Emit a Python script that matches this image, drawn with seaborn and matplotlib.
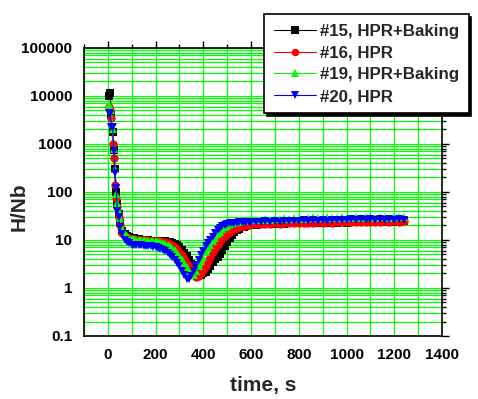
import matplotlib
matplotlib.use("Agg")
import matplotlib.pyplot as plt
import seaborn as sns
from matplotlib.ticker import MultipleLocator, FixedLocator, NullFormatter

# 时间轴（s）
time_s = ([5, 10, 15, 20, 25, 30, 35, 40, 45, 50, 60, 70, 80, 90, 100]
          + list(range(110, 610, 10)) + list(range(620, 1260, 20)))

# #15, HPR+Baking
hnb_15 = [9800, 11500, 4000, 1800, 750, 300, 100, 55, 35, 22, 15, 13, 12, 11.5, 11,
          10.8, 10.5, 10.3, 10.1, 10.0, 9.9, 9.8, 9.7, 9.6, 9.5,
          9.5, 9.4, 9.4, 9.3, 9.2, 9.0, 8.8, 8.4, 7.8, 7.0,
          6.2, 5.4, 4.6, 3.9, 3.2, 2.6, 2.2, 1.95, 1.9, 2.0,
          2.2, 2.5, 2.9, 3.4, 4.0, 4.5, 5.2, 6.2, 7.6, 9.2,
          11.0, 12.8, 14.5, 16.0, 17.2, 18.2, 19.0, 19.6, 20.1, 20.5,
          20.8, 21.2, 21.5, 21.3, 21.8, 22.0, 21.7, 22.2, 22.4, 22.0, 22.5, 22.3, 22.8, 22.6, 23.0, 22.7,
          23.1, 22.9, 23.3, 23.0, 23.4, 23.2, 23.6, 23.3, 23.7, 23.5, 23.9, 23.6, 24.0, 23.8, 24.2, 24.5]

# #16, HPR
hnb_16 = [6000, 5000, 3500, 1000, 500, 140, 75, 48, 30, 20, 14, 12, 11.5, 11, 10.5,
          10.3, 10.2, 10.1, 10.0, 10.0, 9.9, 9.8, 9.7, 9.6, 9.5,
          9.4, 9.3, 9.1, 8.9, 8.6, 8.2, 7.7, 7.1, 6.4, 5.6,
          4.8, 4.0, 3.3, 2.7, 2.2, 1.85, 1.7, 1.75, 2.0, 2.4,
          2.9, 3.6, 4.5, 5.5, 6.7, 8.0, 9.4, 10.8, 12.2, 13.5,
          14.7, 15.8, 16.8, 17.7, 18.5, 19.2, 19.8, 20.3, 20.7, 21.0,
          21.3, 21.6, 21.4, 21.9, 22.1, 21.8, 22.3, 22.5, 22.2, 22.7, 22.4, 22.9, 22.6, 23.1, 22.8, 23.2,
          23.0, 23.5, 23.2, 23.6, 23.4, 23.8, 23.5, 24.0, 23.7, 24.1, 23.9, 24.3, 24.0, 24.4, 24.2, 24.6]

# #19, HPR+Baking
hnb_19 = [6500, 6000, 5000, 2000, 800, 300, 90, 60, 40, 28, 18, 14, 12, 11, 10.5,
          10.3, 10.1, 10.0, 9.9, 9.8, 9.7, 9.6, 9.5, 9.4, 9.3,
          9.1, 8.9, 8.6, 8.3, 7.9, 7.4, 6.8, 6.1, 5.4, 4.7,
          4.0, 3.3, 2.7, 2.2, 1.85, 1.9, 2.3, 2.9, 3.6, 4.5,
          5.5, 6.7, 8.0, 9.6, 11.2, 13.0, 14.8, 16.6, 18.2, 19.7,
          21.0, 22.0, 22.9, 23.6, 24.2, 24.7, 25.1, 25.4, 25.6, 25.8,
          25.8, 26.5, 27.2, 26.6, 27.8, 27.0, 28.3, 27.4, 28.0, 29.1, 27.6, 28.5, 29.4, 28.0, 28.8, 29.6,
          28.2, 29.0, 29.8, 28.4, 29.3, 30.1, 28.7, 29.5, 30.2, 28.9, 29.7, 30.4, 29.1, 29.9, 30.3, 29.4]

# #20, HPR
hnb_20 = [4500, 4200, 2300, 2200, 700, 245, 120, 40, 30, 19, 13, 10, 9, 8.5, 8.0,
          8.0, 7.9, 7.8, 7.7, 7.6, 7.5, 7.4, 7.3, 7.2, 7.0,
          6.8, 6.5, 6.2, 5.8, 5.4, 4.9, 4.4, 3.9, 3.3, 2.8,
          2.3, 1.85, 1.5, 1.5, 1.8, 2.3, 3.0, 3.8, 4.8, 6.0,
          7.3, 8.7, 10.2, 11.7, 13.8, 16.0, 18.0, 19.5, 20.6, 21.4,
          22.0, 22.4, 22.7, 22.9, 23.1, 23.2, 23.3, 23.4, 23.5, 23.5,
          23.6, 23.9, 24.4, 23.7, 24.6, 24.0, 25.0, 24.3, 25.3, 24.6, 25.6, 24.8, 25.9, 25.0, 26.1, 25.2,
          26.3, 25.4, 26.5, 25.6, 26.7, 25.8, 26.8, 25.9, 27.0, 26.1, 27.1, 26.2, 27.2, 26.4, 27.3, 26.5]

labels = ['#15, HPR+Baking', '#16, HPR', '#19, HPR+Baking', '#20, HPR']
colors = ['black', 'red', '#00ff00', 'blue']
markers = ['s', 'o', '^', 'v']
series = [hnb_15, hnb_16, hnb_19, hnb_20]

sns.set_style('white')
plt.rcParams['font.family'] = ['Liberation Sans', 'DejaVu Sans']
plt.rcParams['font.weight'] = 'bold'

fig = plt.figure(figsize=(4.78, 3.99), dpi=100)
ax = fig.add_axes([0.1757, 0.158, 0.749, 0.722])

for y, lab, c, m in zip(series, labels, colors, markers):
    sns.lineplot(x=time_s, y=y, ax=ax, color=c, marker=m, markersize=6,
                 markeredgecolor=c, markeredgewidth=0, linewidth=0.8,
                 label=lab, sort=False)

ax.set_yscale('log')
ax.set_xlim(-100, 1400)
ax.set_ylim(0.1, 100000)

ax.xaxis.set_major_locator(MultipleLocator(200))
ax.xaxis.set_minor_locator(MultipleLocator(100))
ax.set_yticks([0.1, 1, 10, 100, 1000, 10000, 100000])
ax.set_yticklabels(['0.1', '1', '10', '100', '1000', '10000', '100000'])
minor_y = [m * 10.0 ** e for e in range(-1, 5) for m in range(2, 10)]
ax.yaxis.set_minor_locator(FixedLocator(minor_y))
ax.yaxis.set_minor_formatter(NullFormatter())

ax.grid(True, which='both', color='#00ff00', linewidth=0.9)
ax.set_axisbelow(True)

for s in ax.spines.values():
    s.set_color('black')
    s.set_linewidth(1.2)

ax.tick_params(axis='both', which='both', colors='black', labelsize=11)
ax.tick_params(axis='x', which='major', direction='out', length=5, width=1, top=True)
ax.tick_params(axis='x', which='minor', direction='out', length=3, width=1, top=True)
ax.tick_params(axis='y', which='major', direction='out', length=5, width=1, right=True)
ax.tick_params(axis='y', which='minor', direction='out', length=3, width=1, right=True)
for lbl in ax.get_xticklabels() + ax.get_yticklabels():
    lbl.set_fontweight('bold')

ax.set_xlabel('time, s', fontsize=15, fontweight='bold', labelpad=10)
ax.set_ylabel('H/Nb', fontsize=15, fontweight='bold')
ax.yaxis.set_label_coords(-0.155, 0.45)

ax.get_legend().remove()
handles, labs = ax.get_legend_handles_labels()
leg = fig.legend(handles, labs, loc='upper right', bbox_to_anchor=(0.998, 0.985),
                 fontsize=12.2, frameon=True, fancybox=False, edgecolor='black',
                 shadow={'color': 'black', 'alpha': 1}, handlelength=2.5,
                 labelspacing=0.4, borderpad=0.55, handletextpad=0.25, markerscale=0.9)
leg.get_frame().set_linewidth(1.2)
for t in leg.get_texts():
    t.set_fontweight('bold')

plt.savefig('out.png', dpi=100)
